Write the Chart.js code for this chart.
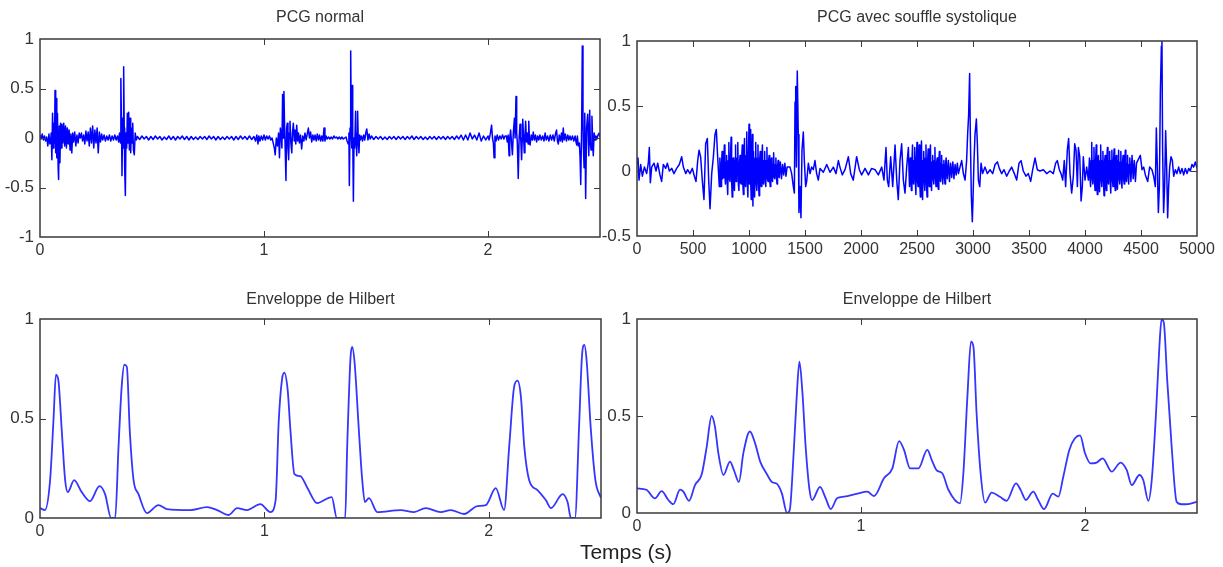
<!DOCTYPE html>
<html><head><meta charset="utf-8">
<script src="https://cdn.jsdelivr.net/npm/chart.js"></script>
<style>
html,body{margin:0;padding:0;background:#fff;}
body{width:1223px;height:567px;position:relative;overflow:hidden;}
canvas{position:absolute;}
#xlabel{position:absolute;left:526px;top:541px;width:200px;text-align:center;font:21px 'Liberation Sans',Arial,sans-serif;line-height:21px;color:#222;}
</style></head>
<body>
<canvas id="c1" width="615" height="265" style="left:0;top:0"></canvas>
<canvas id="c2" width="623" height="265" style="left:600px;top:0"></canvas>
<canvas id="c3" width="615" height="262" style="left:0;top:280px"></canvas>
<canvas id="c4" width="623" height="262" style="left:600px;top:280px"></canvas>
<div id="xlabel">Temps (s)</div>
<script>
// ---------- DATA ----------
const titles = ['PCG normal', 'PCG avec souffle systolique', 'Enveloppe de Hilbert', 'Enveloppe de Hilbert'];
const xTicksSec = [0, 1, 2];
const xTicksSamples = [0, 500, 1000, 1500, 2000, 2500, 3000, 3500, 4000, 4500, 5000];
const yTicksNormal = [-1, -0.5, 0, 0.5, 1];
const yTicksMurmur = [-0.5, 0, 0.5, 1];
const yTicksEnv = [0, 0.5, 1];

// PCG normal: [time (s), amplitude]
const pcgNormal = [
[0,0.03],[0.005,-0.01],[0.01,0.04],[0.015,-0.02],[0.02,0.02],[0.025,-0.03],[0.03,0.01],[0.035,-0.08],[0.04,0.04],[0.044,-0.06],
[0.047,-0.05],[0.05,0.05],[0.053,-0.22],[0.056,0.25],[0.059,-0.1],[0.062,0.15],[0.065,-0.05],[0.067,0.48],[0.07,-0.15],[0.072,0.4],[0.075,-0.2],[0.078,0.25],[0.081,-0.3],[0.083,-0.42],[0.086,0.12],[0.089,-0.25],[0.092,0.15],[0.095,-0.1],[0.098,0.14],[0.102,-0.05],[0.106,0.15],[0.11,-0.08],[0.114,0.12],[0.118,-0.1],[0.122,0.1],[0.126,-0.06],[0.13,0.08],[0.134,-0.12],[0.138,0.04],[0.142,-0.15],[0.146,0.05],[0.15,-0.04],[0.155,0.06],[0.16,-0.08],[0.165,0.03],[0.17,-0.05],[0.175,0.05],[0.18,0.0],[0.185,0.05],[0.19,-0.03],[0.195,0.03],[0.2,-0.06],[0.205,0.07],[0.21,-0.03],[0.215,0.06],[0.22,-0.08],[0.225,0.1],[0.23,-0.05],[0.235,0.12],[0.24,-0.1],[0.245,0.08],[0.25,-0.05],[0.255,0.1],[0.26,-0.15],[0.265,0.06],[0.27,-0.04],[0.275,0.04],[0.28,-0.02],[0.286,0.03],[0.292,-0.03],[0.298,0.02],[0.304,-0.02],[0.31,0.03],[0.316,-0.03],[0.322,0.02],[0.328,-0.02],[0.334,0.03],[0.34,-0.02],[0.346,0.02],[0.351,-0.04],[0.355,0.05],
[0.359,-0.05],[0.361,0.6],[0.364,0.1],[0.366,-0.38],[0.369,0.2],[0.371,-0.1],[0.3735,0.72],[0.376,0.1],[0.378,-0.3],[0.381,-0.58],[0.384,0.05],[0.387,-0.1],[0.39,0.25],[0.393,-0.05],[0.396,0.26],[0.399,-0.12],[0.402,0.2],[0.405,-0.15],[0.408,0.1],[0.411,-0.05],[0.414,0.15],[0.417,-0.12],[0.421,-0.17],[0.425,0.05],[0.43,-0.02],
[0.435,0.015],[0.445,-0.015],[0.455,0.02],[0.465,-0.01],[0.475,0.015],[0.485,-0.02],[0.495,0.015],[0.505,-0.015],[0.515,0.02],[0.525,-0.01],[0.535,0.015],[0.545,-0.02],[0.555,0.01],[0.565,-0.015],[0.575,0.02],[0.585,-0.015],[0.595,0.015],[0.605,-0.02],[0.615,0.015],[0.625,-0.01],[0.635,0.02],[0.645,-0.015],[0.655,0.015],[0.665,-0.02],[0.675,0.015],[0.685,-0.015],[0.695,0.01],[0.705,-0.015],[0.715,0.015],[0.725,-0.01],[0.735,0.015],[0.745,-0.015],[0.755,0.02],[0.765,-0.01],[0.775,0.015],[0.785,-0.02],[0.795,0.015],[0.805,-0.015],[0.815,0.01],[0.825,-0.015],[0.835,0.015],[0.845,-0.01],[0.855,0.015],[0.865,-0.02],[0.875,0.015],[0.885,-0.015],[0.895,0.02],[0.905,-0.01],[0.915,0.015],[0.925,-0.015],[0.935,0.02],[0.945,-0.015],[0.955,0.015],[0.962,-0.03],[0.968,0.03],[0.973,-0.06],[0.977,0.02],[0.982,-0.03],[0.988,0.02],[0.994,-0.02],[1.0,0.03],[1.006,-0.02],[1.012,0.02],[1.018,-0.01],[1.024,0.02],[1.03,-0.02],[1.036,0.0],[1.041,-0.05],[1.046,-0.1],
[1.05,-0.17],[1.055,0.0],[1.06,-0.08],[1.065,0.05],[1.069,-0.2],[1.073,0.1],[1.076,0.06],[1.08,-0.1],[1.083,0.44],[1.086,0.0],[1.089,0.47],[1.092,0.1],[1.094,-0.05],[1.098,-0.43],[1.101,0.1],[1.104,0.15],[1.107,-0.1],[1.11,-0.22],[1.113,0.05],[1.116,0.17],[1.12,-0.05],[1.124,-0.15],[1.127,0.05],[1.131,0.15],[1.135,-0.03],[1.138,0.08],[1.142,-0.06],[1.146,0.13],[1.15,-0.03],[1.154,0.05],[1.158,-0.05],[1.163,0.03],[1.168,-0.11],[1.173,0.02],[1.178,-0.03],[1.183,0.05],[1.188,-0.02],[1.193,0.04],[1.198,0.1],[1.203,0.0],[1.208,0.06],[1.213,-0.04],[1.218,0.03],[1.223,-0.02],[1.228,0.03],[1.233,-0.03],[1.238,0.04],[1.243,-0.02],[1.248,0.03],[1.253,-0.03],[1.258,0.02],[1.263,-0.03],[1.268,0.1],[1.272,-0.03],[1.277,0.02],[1.282,-0.01],[1.288,0.01],[1.294,-0.01],[1.3,0.01],[1.306,-0.01],[1.312,0.02],[1.318,0.0],[1.324,0.01],[1.33,-0.01],[1.336,0.01],[1.342,-0.01],[1.348,0.01],[1.354,-0.01],[1.36,0.0],[1.366,0.01],[1.371,-0.03],
[1.376,-0.06],[1.379,0.05],[1.381,-0.48],[1.384,0.1],[1.387,0.88],[1.39,0.0],[1.392,-0.1],[1.394,0.53],[1.396,0.05],[1.399,-0.64],[1.402,0.0],[1.405,-0.1],[1.409,0.27],[1.411,0.0],[1.414,-0.18],[1.416,0.05],[1.418,0.27],[1.421,-0.05],[1.424,-0.15],[1.427,0.03],[1.43,-0.02],[1.435,0.02],[1.44,-0.03],[1.445,0.03],[1.45,-0.02],[1.455,0.06],[1.459,0.09],[1.464,-0.02],[1.469,0.04],[1.474,-0.01],[1.48,0.02],
[1.49,-0.015],[1.5,0.015],[1.51,-0.01],[1.52,0.015],[1.53,-0.015],[1.54,0.01],[1.55,-0.015],[1.56,0.015],[1.57,-0.01],[1.58,0.015],[1.59,-0.015],[1.6,0.015],[1.61,-0.01],[1.62,0.015],[1.63,-0.015],[1.64,0.015],[1.65,-0.01],[1.66,0.02],[1.67,-0.015],[1.68,0.015],[1.69,-0.01],[1.7,0.015],[1.71,-0.015],[1.72,0.01],[1.73,-0.015],[1.74,0.015],[1.75,-0.01],[1.76,0.015],[1.77,-0.015],[1.78,0.015],[1.79,-0.01],[1.8,0.015],[1.81,-0.015],[1.82,0.015],[1.83,-0.01],[1.84,0.015],[1.85,-0.015],[1.86,0.02],[1.87,-0.01],[1.88,0.03],[1.89,-0.02],[1.9,0.03],[1.91,-0.02],[1.92,0.05],[1.93,-0.01],[1.94,0.03],[1.95,-0.02],[1.96,0.05],[1.97,-0.03],[1.98,0.02],[1.99,-0.02],[2.0,0.02],
[2.005,-0.02],[2.01,0.04],[2.016,0.13],[2.02,0.0],[2.024,-0.05],[2.027,-0.2],[2.031,0.02],[2.036,-0.03],[2.041,0.03],[2.047,-0.02],[2.053,0.02],[2.059,-0.01],[2.065,0.03],[2.071,-0.01],[2.076,0.02],
[2.082,0.02],[2.086,-0.04],[2.09,0.03],[2.094,-0.18],[2.097,0.0],[2.101,0.08],[2.105,-0.05],[2.109,-0.17],[2.113,0.05],[2.118,0.2],[2.121,0.0],[2.125,0.42],[2.128,0.05],[2.131,-0.05],[2.135,-0.41],[2.139,0.0],[2.143,0.14],[2.147,-0.05],[2.15,-0.22],[2.153,0.0],[2.155,0.19],[2.159,0.0],[2.162,-0.15],[2.165,0.02],[2.168,0.17],[2.172,-0.04],[2.176,0.05],[2.179,-0.06],[2.182,0.17],[2.185,-0.02],[2.188,-0.07],[2.193,0.03],[2.198,-0.02],[2.202,0.06],[2.207,-0.02],[2.212,0.03],[2.217,-0.04],[2.222,0.02],[2.227,-0.02],[2.232,0.03],
[2.238,-0.02],[2.244,0.02],[2.25,-0.03],[2.255,0.05],[2.26,-0.02],[2.266,0.02],[2.272,-0.03],[2.278,0.03],[2.284,-0.02],[2.29,0.03],[2.296,-0.03],[2.301,0.04],[2.306,0.08],[2.31,-0.03],[2.314,-0.06],[2.318,0.03],[2.323,-0.03],[2.328,0.05],[2.332,-0.04],[2.336,0.1],[2.34,-0.02],[2.345,0.04],[2.35,-0.03],[2.356,0.03],[2.361,-0.02],[2.366,0.02],[2.371,-0.02],[2.377,0.02],[2.383,-0.03],[2.389,0.02],[2.393,-0.04],[2.396,-0.07],
[2.399,0.02],[2.403,-0.08],[2.408,-0.05],[2.411,-0.2],[2.414,-0.47],[2.418,0.1],[2.421,0.93],[2.424,0.2],[2.426,-0.1],[2.429,-0.3],[2.431,0.0],[2.433,0.25],[2.436,-0.61],[2.44,0.1],[2.445,0.24],[2.448,-0.05],[2.45,-0.18],[2.454,0.28],[2.457,-0.05],[2.46,-0.12],[2.464,0.22],[2.467,0.0],[2.47,-0.18],[2.474,0.05],[2.478,-0.02],[2.482,0.02],[2.486,-0.01],[2.491,0.03],[2.496,0.05],[2.5,0.01]
];

// PCG avec souffle systolique: [sample index, amplitude]
const pcgMurmur = [
[0,0.05],[9,0.1],[18,-0.07],[33,0.05],[48,-0.04],[66,0.03],[86,-0.02],[101,0.06],[110,0.18],[119,-0.09],[131,0.03],[152,0.06],[170,0.0],[185,0.06],[205,-0.03],[220,-0.08],[235,0.05],[256,0.02],[271,0.06],[289,0.0],[310,0.02],[330,-0.02],[354,0.02],[378,0.05],[399,0.11],[414,0.03],[435,-0.02],[452,0.01],[473,-0.02],[494,0.02],[512,-0.04],[527,-0.08],[542,0.08],[554,0.16],[568,0.11],[583,-0.07],[598,-0.22],[613,0.21],[628,0.25],[640,-0.07],[652,-0.29],[667,-0.02],[682,0.11],[696,0.28],[708,0.32],[720,0.11],[735,-0.12],
[740,0.1],[745,-0.05],[750,-0.12],[755,0.06],[760,0.15],[765,-0.06],[770,-0.05],[775,0.08],[780,0.2],[785,-0.04],[790,-0.1],[795,0.07],[800,0.12],[805,-0.08],[810,-0.18],[815,0.08],[820,0.22],[825,-0.06],[830,-0.08],[835,0.1],[840,0.26],[845,-0.08],[850,-0.2],[855,0.09],[860,0.1],[865,-0.1],[870,-0.15],[875,0.08],[880,0.2],[885,-0.08],[890,-0.05],[895,0.1],[900,0.22],[905,-0.1],[910,-0.15],[915,0.06],[920,0.12],[925,-0.09],[930,-0.1],[935,0.1],[940,0.2],[945,-0.1],[950,-0.18],[955,0.1],[960,0.25],[965,-0.1],[970,-0.12],[975,0.12],[980,0.3],[985,-0.1],[990,-0.2],[995,0.12],[1000,0.36],[1005,-0.1],[1010,0.32],[1015,-0.08],[1020,-0.22],[1025,0.1],[1030,0.28],[1035,-0.27],[1040,0.15],[1045,-0.1],[1050,-0.2],[1055,0.1],[1060,0.22],[1065,-0.1],[1070,-0.15],[1075,0.1],[1080,0.2],[1085,-0.1],[1090,-0.19],[1095,0.08],[1100,0.15],[1105,-0.1],[1110,-0.12],[1115,0.1],[1120,0.2],[1125,-0.08],[1130,-0.1],[1135,0.08],[1140,0.15],[1145,-0.08],[1150,-0.12],[1155,0.08],[1160,0.18],[1165,-0.06],[1170,-0.08],[1175,0.08],[1180,0.12],[1185,-0.07],[1190,-0.12],[1195,0.06],[1200,0.1],[1205,-0.06],[1210,-0.08],[1215,0.06],[1220,0.14],[1225,-0.05],[1230,-0.06],[1235,0.05],[1240,0.1],[1245,-0.05],[1250,-0.1],[1255,0.04],[1260,0.08],[1265,-0.04],[1270,-0.05],[1280,0.07],[1290,-0.06],[1300,0.05],[1310,-0.03],[1320,0.06],[1330,-0.04],[1340,0.03],
[1366,0.03],[1381,-0.02],[1396,-0.12],[1405,-0.17],[1411,0.53],[1417,0.65],[1423,0.03],[1431,0.77],[1440,0.28],[1446,-0.32],[1455,-0.12],[1464,-0.36],[1473,0.16],[1485,0.3],[1494,0.08],[1506,-0.12],[1515,-0.08],[1530,0.06],[1545,-0.02],[1559,0.03],[1574,0.01],[1589,0.08],[1604,-0.02],[1619,-0.07],[1634,0.02],[1664,-0.01],[1694,0.05],[1723,-0.01],[1753,0.03],[1777,-0.02],[1798,0.08],[1812,0.03],[1833,-0.03],[1857,0.01],[1887,0.11],[1908,-0.02],[1931,-0.07],[1961,0.11],[1985,0.01],[2006,-0.03],[2036,0.02],[2066,-0.03],[2095,0.02],[2125,0.01],[2155,-0.03],[2185,0.03],[2205,-0.07],[2223,0.18],[2235,-0.07],[2247,-0.12],[2265,0.11],[2283,-0.12],[2304,0.2],[2319,-0.07],[2333,-0.22],[2348,0.08],[2363,0.21],[2378,-0.07],[2393,-0.17],[2408,0.03],[2423,0.18],[2433,-0.12],
[2440,0.1],[2445,-0.06],[2450,-0.15],[2455,0.08],[2460,0.2],[2465,-0.07],[2470,-0.1],[2475,0.08],[2480,0.18],[2485,-0.08],[2490,-0.18],[2495,0.1],[2500,0.22],[2505,-0.08],[2510,-0.12],[2515,0.1],[2520,0.2],[2525,-0.1],[2530,-0.2],[2535,0.1],[2540,0.23],[2545,-0.1],[2550,-0.22],[2555,0.08],[2560,0.15],[2565,-0.08],[2570,-0.15],[2575,0.1],[2580,0.2],[2585,-0.1],[2590,-0.2],[2595,0.08],[2600,0.17],[2605,-0.07],[2610,-0.12],[2615,0.1],[2620,0.2],[2625,-0.08],[2630,-0.15],[2635,0.07],[2640,0.12],[2645,-0.06],[2650,-0.1],[2655,0.08],[2660,0.18],[2665,-0.06],[2670,-0.12],[2675,0.06],[2680,0.1],[2685,-0.07],[2690,-0.14],[2695,0.07],[2700,0.15],[2705,-0.05],[2710,-0.08],[2715,0.06],[2720,0.12],[2725,-0.05],[2730,-0.1],[2735,0.05],[2740,0.08],[2745,-0.05],[2750,-0.1],[2755,0.05],[2760,0.1],[2770,-0.06],[2780,0.08],[2790,-0.08],[2800,0.06],[2810,-0.05],[2820,0.07],[2830,-0.06],[2840,0.05],[2850,-0.03],[2860,0.06],[2870,-0.02],
[2884,0.03],[2899,0.08],[2914,-0.02],[2929,-0.07],[2943,0.08],[2952,0.28],[2961,0.43],[2970,0.75],[2976,0.28],[2985,-0.19],[2994,-0.39],[3000,-0.22],[3009,0.08],[3018,0.28],[3030,0.4],[3039,0.21],[3048,-0.07],[3060,-0.12],[3072,0.06],[3086,-0.02],[3107,0.03],[3128,-0.02],[3152,0.01],[3176,-0.02],[3197,0.05],[3218,0.07],[3235,0.02],[3256,-0.02],[3277,0.01],[3301,-0.04],[3324,0.0],[3345,0.03],[3369,-0.02],[3390,-0.07],[3411,0.06],[3429,0.08],[3449,0.0],[3473,-0.04],[3494,-0.02],[3515,-0.08],[3533,0.01],[3554,0.1],[3574,0.01],[3598,0.0],[3628,0.01],[3658,-0.02],[3688,0.0],[3717,-0.02],[3738,0.06],[3753,0.08],[3771,0.01],[3786,-0.02],[3801,-0.07],[3815,0.08],[3827,-0.12],[3842,0.16],[3854,0.25],[3866,-0.02],[3881,-0.17],[3896,-0.04],[3908,0.21],[3920,0.16],[3932,-0.12],[3941,0.18],[3953,0.11],[3965,-0.23],[3976,-0.12],[3985,0.11],[4000,-0.07],[4015,0.03],[4030,-0.07],
[4040,0.1],[4045,-0.06],[4050,-0.12],[4055,0.08],[4060,0.22],[4065,-0.06],[4070,-0.1],[4075,0.08],[4080,0.18],[4085,-0.08],[4090,-0.15],[4095,0.08],[4100,0.2],[4105,-0.08],[4110,-0.18],[4115,0.07],[4120,0.12],[4125,-0.08],[4130,-0.16],[4135,0.08],[4140,0.2],[4145,-0.07],[4150,-0.12],[4155,0.08],[4160,0.15],[4165,-0.08],[4170,-0.19],[4175,0.07],[4180,0.12],[4185,-0.08],[4190,-0.15],[4195,0.08],[4200,0.18],[4205,-0.06],[4210,-0.1],[4215,0.08],[4220,0.15],[4225,-0.08],[4230,-0.17],[4235,0.08],[4240,0.16],[4245,-0.07],[4250,-0.12],[4255,0.08],[4260,0.17],[4265,-0.08],[4270,-0.15],[4275,0.07],[4280,0.12],[4285,-0.08],[4290,-0.14],[4295,0.08],[4300,0.16],[4305,-0.06],[4310,-0.1],[4315,0.07],[4320,0.15],[4325,-0.07],[4330,-0.13],[4335,0.06],[4340,0.12],[4345,-0.06],[4350,-0.1],[4355,0.07],[4360,0.16],[4365,-0.05],[4370,-0.08],[4375,0.06],[4380,0.12],[4385,-0.05],[4390,-0.1],[4395,0.05],[4400,0.1],[4410,-0.08],[4420,0.12],[4430,-0.06],[4440,0.08],[4450,-0.08],[4460,0.06],
[4494,0.12],[4509,0.01],[4524,0.03],[4539,-0.03],[4560,-0.08],[4577,0.03],[4598,0.01],[4613,-0.04],[4628,-0.12],[4637,0.33],[4646,0.03],[4655,-0.32],[4664,-0.12],[4673,0.61],[4682,0.96],[4687,1.0],[4693,0.16],[4702,-0.32],[4711,-0.12],[4720,0.31],[4729,0.03],[4738,-0.36],[4747,-0.12],[4756,0.03],[4768,0.11],[4780,0.08],[4792,-0.04],[4807,0.01],[4821,-0.02],[4836,0.03],[4851,-0.02],[4866,0.02],[4881,-0.03],[4896,0.02],[4911,-0.02],[4926,0.02],[4940,0.0],[4955,0.05],[4970,0.03],[4985,0.07],[5000,0.02]
];

// Enveloppe de Hilbert (normal): [time (s), amplitude]
const envNormal = [
[0,0.05],[0.022,0.04],[0.045,0.19],[0.06,0.49],[0.071,0.72],[0.082,0.69],[0.097,0.44],[0.112,0.19],[0.124,0.13],[0.152,0.19],[0.186,0.13],[0.223,0.085],[0.265,0.16],[0.29,0.12],[0.317,0.0],[0.335,0.0],[0.35,0.36],[0.364,0.66],[0.376,0.77],[0.387,0.76],[0.4,0.44],[0.417,0.19],[0.439,0.12],[0.476,0.025],[0.528,0.065],[0.565,0.045],[0.67,0.04],[0.744,0.055],[0.789,0.04],[0.841,0.015],[0.878,0.05],[0.923,0.04],[0.982,0.07],[1.027,0.03],[1.05,0.09],[1.064,0.49],[1.079,0.7],[1.089,0.73],[1.104,0.64],[1.116,0.44],[1.134,0.22],[1.16,0.21],[1.19,0.155],[1.235,0.075],[1.3,0.105],[1.323,0.0],[1.36,0.0],[1.369,0.36],[1.384,0.81],[1.391,0.86],[1.402,0.78],[1.421,0.44],[1.436,0.19],[1.448,0.08],[1.466,0.1],[1.503,0.03],[1.607,0.04],[1.667,0.03],[1.719,0.05],[1.786,0.03],[1.83,0.04],[1.89,0.02],[1.949,0.06],[1.987,0.065],[2.031,0.15],[2.068,0.04],[2.091,0.36],[2.113,0.66],[2.128,0.69],[2.143,0.61],[2.158,0.36],[2.18,0.19],[2.217,0.14],[2.254,0.09],[2.277,0.05],[2.329,0.12],[2.351,0.08],[2.366,0.0],[2.384,0.0],[2.403,0.48],[2.415,0.81],[2.426,0.87],[2.436,0.79],[2.455,0.44],[2.475,0.19],[2.5,0.1]
];

// Enveloppe de Hilbert (souffle): [time (s), amplitude]
const envMurmur = [
[0,0.127],[0.042,0.12],[0.08,0.075],[0.11,0.113],[0.14,0.067],[0.162,0.046],[0.192,0.12],[0.207,0.11],[0.232,0.063],[0.259,0.144],[0.289,0.2],[0.311,0.34],[0.333,0.5],[0.348,0.445],[0.363,0.31],[0.386,0.196],[0.415,0.265],[0.433,0.22],[0.455,0.16],[0.475,0.31],[0.504,0.42],[0.527,0.36],[0.55,0.265],[0.58,0.2],[0.602,0.16],[0.625,0.15],[0.647,0.1],[0.67,0.0],[0.682,0.015],[0.697,0.26],[0.713,0.6],[0.725,0.78],[0.738,0.63],[0.753,0.34],[0.77,0.12],[0.782,0.067],[0.817,0.135],[0.842,0.077],[0.865,0.02],[0.894,0.077],[0.924,0.084],[0.984,0.1],[1.028,0.11],[1.058,0.087],[1.103,0.18],[1.14,0.23],[1.17,0.37],[1.192,0.325],[1.219,0.23],[1.256,0.23],[1.296,0.325],[1.316,0.273],[1.338,0.22],[1.363,0.205],[1.39,0.12],[1.442,0.05],[1.457,0.205],[1.475,0.6],[1.491,0.883],[1.502,0.857],[1.516,0.514],[1.534,0.205],[1.554,0.053],[1.583,0.105],[1.62,0.084],[1.65,0.063],[1.692,0.153],[1.713,0.118],[1.736,0.067],[1.769,0.11],[1.791,0.067],[1.817,0.02],[1.856,0.1],[1.881,0.084],[1.903,0.187],[1.93,0.325],[1.955,0.385],[1.978,0.4],[2.0,0.308],[2.025,0.256],[2.052,0.26],[2.079,0.282],[2.119,0.213],[2.159,0.26],[2.186,0.222],[2.209,0.144],[2.243,0.196],[2.26,0.17],[2.283,0.063],[2.298,0.17],[2.317,0.514],[2.332,0.857],[2.342,1.0],[2.352,0.98],[2.367,0.685],[2.387,0.34],[2.409,0.058],[2.431,0.045],[2.461,0.046],[2.5,0.058]
];

// ---------- CHARTS ----------
Chart.defaults.font.family = "'Liberation Sans', Arial, sans-serif";
Chart.defaults.color = '#333';

const boxTicks = {
  id: 'boxTicks',
  afterDraw(chart) {
    const {ctx, chartArea: a, scales} = chart;
    ctx.save();
    ctx.strokeStyle = '#3a3a3a';
    ctx.lineWidth = 1;
    ctx.beginPath();
    scales.x.ticks.forEach(t => {
      const p = Math.round(scales.x.getPixelForValue(t.value)) + 0.5;
      if (p <= a.left + 1 || p >= a.right - 1) return;
      ctx.moveTo(p, a.bottom); ctx.lineTo(p, a.bottom - 6);
      ctx.moveTo(p, a.top); ctx.lineTo(p, a.top + 6);
    });
    scales.y.ticks.forEach(t => {
      const p = Math.round(scales.y.getPixelForValue(t.value)) + 0.5;
      if (p <= a.top + 1 || p >= a.bottom - 1) return;
      ctx.moveTo(a.left, p); ctx.lineTo(a.left + 6, p);
      ctx.moveTo(a.right, p); ctx.lineTo(a.right - 6, p);
    });
    ctx.stroke();
    ctx.lineWidth = 1.5;
    ctx.strokeRect(a.left, a.top, a.right - a.left, a.bottom - a.top);
    ctx.restore();
  }
};

function makeChart(id, cfg) {
  const toXY = arr => arr.map(([x, y]) => ({x, y}));
  return new Chart(document.getElementById(id), {
    type: 'line',
    data: { datasets: [{
      data: toXY(cfg.data),
      borderColor: cfg.color,
      borderWidth: cfg.width,
      borderJoinStyle: 'round',
      pointRadius: 0,
      fill: false,
      tension: 0,
      cubicInterpolationMode: cfg.smooth ? 'monotone' : 'default'
    }]},
    options: {
      responsive: false,
      animation: false,
      events: [],
      layout: { padding: { left: 0, right: cfg.padRight, top: 0, bottom: 0 } },
      plugins: {
        legend: { display: false },
        tooltip: { enabled: false },
        title: {
          display: true, text: cfg.title, fullSize: false,
          font: { size: 16, weight: 'normal', lineHeight: 1 },
          color: '#333',
          padding: { top: cfg.titleTop, bottom: cfg.titleBottom }
        }
      },
      scales: {
        x: {
          type: 'linear', min: cfg.xMin, max: cfg.xMax,
          grid: { display: false, drawTicks: false },
          border: { display: false },
          afterBuildTicks: s => { s.ticks = cfg.xTicks.map(v => ({value: v})); },
          afterFit: s => { s.height = cfg.xHeight; },
          ticks: { autoSkip: false, maxRotation: 0, padding: 4, font: { size: 16 }, color: '#333',
                   callback: v => String(v) }
        },
        y: {
          type: 'linear', min: cfg.yMin, max: cfg.yMax,
          grid: { display: false, drawTicks: false },
          border: { display: false },
          afterBuildTicks: s => { s.ticks = cfg.yTicks.map(v => ({value: v})); },
          afterFit: s => { s.width = cfg.yWidth; },
          ticks: { padding: 6, font: { size: 17 }, color: '#333', callback: v => String(v) }
        }
      }
    },
    plugins: [boxTicks]
  });
}

makeChart('c1', { data: pcgNormal, color: '#0000ff', width: 1.5, smooth: false, title: titles[0],
  titleTop: 10, titleBottom: 13, padRight: 15, yWidth: 40, xHeight: 28,
  xMin: 0, xMax: 2.5, xTicks: xTicksSec, yMin: -1, yMax: 1, yTicks: yTicksNormal });
makeChart('c2', { data: pcgMurmur, color: '#0000ff', width: 1.5, smooth: false, title: titles[1],
  titleTop: 10, titleBottom: 15, padRight: 26, yWidth: 37, xHeight: 29,
  xMin: 0, xMax: 5000, xTicks: xTicksSamples, yMin: -0.5, yMax: 1, yTicks: yTicksMurmur });
makeChart('c3', { data: envNormal, color: '#3535ff', width: 1.8, smooth: true, title: titles[2],
  titleTop: 12, titleBottom: 11, padRight: 14, yWidth: 40, xHeight: 24,
  xMin: 0, xMax: 2.5, xTicks: xTicksSec, yMin: 0, yMax: 1, yTicks: yTicksEnv });
makeChart('c4', { data: envMurmur, color: '#3535ff', width: 1.8, smooth: true, title: titles[3],
  titleTop: 12, titleBottom: 11, padRight: 26, yWidth: 37, xHeight: 29,
  xMin: 0, xMax: 2.5, xTicks: xTicksSec, yMin: 0, yMax: 1, yTicks: yTicksEnv });
</script>
</body></html>
